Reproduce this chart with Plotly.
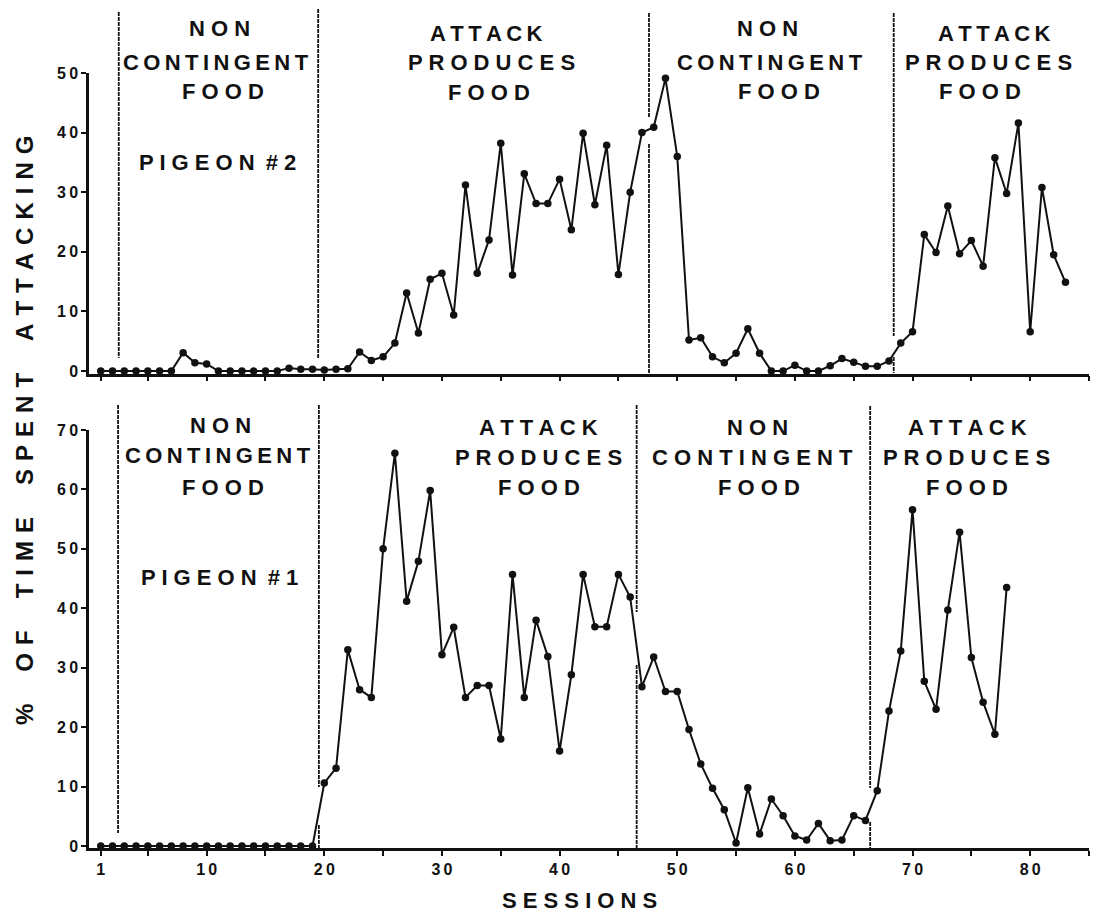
import plotly.graph_objects as go

# ---------------- data ----------------
sessions_p2 = list(range(1, 84))
attack_p2 = [0, 0, 0, 0, 0, 0, 0, 3.1, 1.4, 1.2,
             0, 0, 0, 0, 0, 0, 0.5, 0.3, 0.3, 0.2,
             0.3, 0.4, 3.2, 1.8, 2.4, 4.7, 13.1, 6.4, 15.4, 16.4,
             9.4, 31.2, 16.4, 22.0, 38.2, 16.1, 33.1, 28.1, 28.1, 32.2,
             23.7, 39.9, 27.9, 37.9, 16.2, 30.0, 40.0, 40.9, 49.1, 36.0,
             5.2, 5.6, 2.4, 1.4, 3.0, 7.1, 3.0, 0, 0, 1.0,
             0, 0, 0.9, 2.1, 1.5, 0.8, 0.8, 1.7, 4.7, 6.6,
             22.9, 19.9, 27.7, 19.7, 21.9, 17.6, 35.8, 29.8, 41.6, 6.6,
             30.8, 19.5, 14.9]

sessions_p1 = list(range(1, 79))
attack_p1 = [0] * 19 + [
             10.6, 13.1, 33.0, 26.3, 25.0, 50.0, 66.1, 41.2, 47.9, 59.8,
             32.2, 36.8, 25.0, 27.0, 27.0, 18.0, 45.7, 25.0, 38.0, 31.9,
             16.0, 28.8, 45.7, 36.9, 36.9, 45.7, 41.9, 26.8, 31.8, 26.0,
             26.0, 19.6, 13.8, 9.7, 6.1, 0.5, 9.8, 2.0, 7.9, 5.1,
             1.7, 1.0, 3.8, 0.9, 1.0, 5.1, 4.3, 9.3, 22.7, 32.8,
             56.6, 27.7, 23.0, 39.7, 52.8, 31.7, 24.2, 18.8, 43.5]

# phase boundaries (session units) for each pigeon
bounds_p2 = [2.53, 19.48, 47.6, 68.4]
bounds_p1 = [2.47, 19.54, 46.55, 66.4]

x_tickvals = [1] + list(range(5, 86, 5))
x_ticklabels = ["1", "10", "20", "30", "40", "50", "60", "70", "80"]
y_ticks_top = [0, 10, 20, 30, 40, 50]
y_ticks_bot = [0, 10, 20, 30, 40, 50, 60, 70]

phase_non = ["NON", "CONTINGENT", "FOOD"]
phase_att = ["ATTACK", "PRODUCES", "FOOD"]
pigeon_top = "PIGEON # 2"
pigeon_bot = "PIGEON # 1"
y_title_words = ["%", "OF", "TIME", "SPENT", "ATTACKING"]
x_title = "SESSIONS"

# ---------------- geometry (page pixels; body has an 8px margin) ----------------
OFF = 8
W, H = 1102 - 2 * OFF, 921 - 2 * OFF
L, T = 89 - OFF, 73 - OFF
PW, PH = 1000, 775
R, B = W - L - PW, H - T - PH


def px(x):
    return (x - OFF - L) / PW


def py(y):
    return (OFF + T + PH - y) / PH


THIN = "\u2009"
SP = " "
FONT = "Liberation Sans"
INK = "#111111"


def sp(word, sep=THIN):
    return sep.join(word)


def tick_text(v):
    return sp(str(v))


x_ticktext = []
for v in x_tickvals:
    s = str(v)
    x_ticktext.append(sp(s) if s in x_ticklabels else "")

fig = go.Figure()

for xs, ys, xa, ya in [(sessions_p2, attack_p2, "x", "y"),
                       (sessions_p1, attack_p1, "x2", "y2")]:
    fig.add_trace(go.Scatter(
        x=xs, y=ys, xaxis=xa, yaxis=ya, mode="lines+markers",
        line=dict(color=INK, width=2),
        marker=dict(color=INK, size=7.5),
        cliponaxis=False, showlegend=False, hoverinfo="skip"))

top_dom = [py(373.5), 1.0]
bot_dom = [0.0, py(430)]

axis_common = dict(
    showgrid=False, zeroline=False, showline=True, linecolor=INK, linewidth=2.5,
    ticks="outside", ticklen=5, tickwidth=2, tickcolor=INK,
    tickfont=dict(family=FONT, size=16, color=INK, weight="bold"),
)

fig.update_layout(
    width=W, height=H, margin=dict(l=L, r=R, t=T, b=B),
    paper_bgcolor="white", plot_bgcolor="white",
    font=dict(family=FONT, color=INK),
    xaxis=dict(range=[0, 85], domain=[0, 1], anchor="y",
               tickvals=x_tickvals, ticktext=[""] * len(x_tickvals), **axis_common),
    yaxis=dict(range=[-0.4, 50], domain=top_dom, anchor="x",
               tickvals=y_ticks_top, ticktext=[tick_text(v) for v in y_ticks_top],
               **axis_common),
    xaxis2=dict(range=[0, 85], domain=[0, 1], anchor="y2",
                tickvals=x_tickvals, ticktext=x_ticktext, **axis_common),
    yaxis2=dict(range=[-0.34, 70], domain=bot_dom, anchor="x2",
                tickvals=y_ticks_bot, ticktext=[tick_text(v) for v in y_ticks_bot],
                **axis_common),
)

# dashed phase boundaries: segments (y_top_px, y_bottom_px) in page pixels
seg_top = [[(12, 358)], [(9, 358)], [(13, 118), (144, 373)], [(13, 336), (357, 373)]]
seg_bot = [[(405, 833)], [(405, 787), (825, 848)], [(405, 612), (665, 848)],
           [(406, 788), (822, 848)]]
for bounds, segs in [(bounds_p2, seg_top), (bounds_p1, seg_bot)]:
    for xb, ss in zip(bounds, segs):
        for y0, y1 in ss:
            fig.add_shape(type="line", xref="x", yref="paper",
                          x0=xb, x1=xb, y0=py(y0), y1=py(y1),
                          line=dict(color=INK, width=1.8, dash="4px,1px"))


def label(text, xc, yc, size=22):
    fig.add_annotation(text=text, x=px(xc), y=py(yc), xref="paper", yref="paper",
                       showarrow=False, xanchor="center", yanchor="middle",
                       font=dict(family=FONT, size=size, color=INK, weight="bold"))


# phase labels (centre x, centre y per line, letter separator)
top_blocks = [
    (phase_non, [219, 216, 223], [28.5, 62.5, 91.5], [SP, THIN, SP]),
    (phase_att, [486, 491, 489], [33, 62.5, 92], [THIN, SP, SP]),
    (phase_non, [767, 770, 779], [28.5, 62.5, 91.5], [SP, THIN, SP]),
    (phase_att, [994, 988, 980], [33, 62.5, 91.5], [THIN, SP, SP]),
]
bot_blocks = [
    (phase_non, [220, 218, 223], [425, 456, 487], [SP, THIN, SP]),
    (phase_att, [538, 538, 539], [427, 457, 487], [SP, SP, SP]),
    (phase_non, [757, 752, 759], [427, 457, 487], [SP, SP, SP]),
    (phase_att, [967, 966, 967], [428, 457, 487], [SP, SP, SP]),
]
for words, xs, ys, seps in top_blocks + bot_blocks:
    for w, xc, yc, sepc in zip(words, xs, ys, seps):
        label(sp(w, sepc), xc, yc)


def pigeon_text(s):
    name, num = s.split(" # ")
    return sp(name, SP) + "\u2002#" + SP + num


label(pigeon_text(pigeon_top), 217, 162)
label(pigeon_text(pigeon_bot), 219, 577)

letter_sep = "\u2004"
word_sep = "\u2004\u2003"
fig.add_annotation(text=word_sep.join(sp(w, letter_sep) for w in y_title_words),
                   x=px(24), y=py(431), xref="paper", yref="paper",
                   showarrow=False, textangle=-90, xanchor="center", yanchor="middle",
                   font=dict(family=FONT, size=24, color=INK, weight="bold"))
label(sp(x_title, SP), 579, 900, size=22)

fig.write_html("out.html")
